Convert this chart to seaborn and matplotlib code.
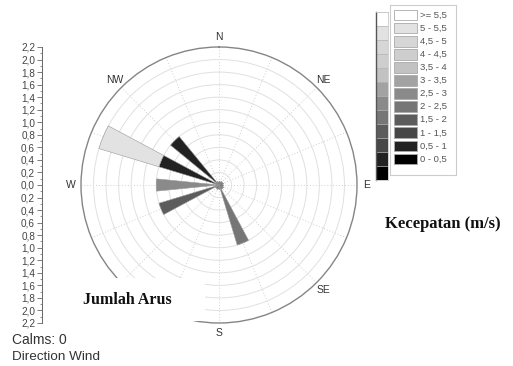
import numpy as np
import matplotlib
matplotlib.use('Agg')
import matplotlib.pyplot as plt
from matplotlib.patches import Rectangle
import seaborn as sns

# speed classes (top of legend first) and their grey shades
speed_labels = ['>= 5,5', '5 - 5,5', '4,5 - 5', '4 - 4,5', '3,5 - 4', '3 - 3,5',
                '2,5 - 3', '2 - 2,5', '1,5 - 2', '1 - 1,5', '0,5 - 1', '0 - 0,5']
speed_colors = ['#ffffff', '#e2e2e2', '#d6d6d6', '#cecece', '#c2c2c2', '#a2a2a2',
                '#8a8a8a', '#767676', '#5c5c5c', '#474747', '#222222', '#000000']

# 16 compass sectors (SW label sits under the title panel, so not shown)
directions = ['N', 'NNE', 'NE', 'ENE', 'E', 'ESE', 'SE', 'SSE',
              'S', 'SSW', 'SW', 'WSW', 'W', 'WNW', 'NW', 'NNW']
dir_labels = ['N', '', 'NE', '', 'E', '', 'SE', '',
              'S', '', '', '', 'W', '', 'NW', '']

# counts per (direction, speed class)
counts = {
    'WNW': {'0,5 - 1': 1, '5 - 5,5': 1},
    'NW': {'0,5 - 1': 1},
    'W': {'2,5 - 3': 1},
    'WSW': {'1,5 - 2': 1},
    'SSE': {'2 - 2,5': 1},
}

rmax = 2.2
radial_ticks = np.arange(-2.2, 2.21, 0.2)

sns.set_style('white')
plt.rcParams['font.family'] = ['Liberation Sans', 'DejaVu Sans']

fig = plt.figure(figsize=(5.13, 3.66), dpi=100)
W, H = 513, 366


def px_axes(x0, y0, x1, y1, **kw):
    return fig.add_axes([x0 / W, 1 - y1 / H, (x1 - x0) / W, (y1 - y0) / H], **kw)


# ---- wind rose ----
cx, cy, R = 219, 185, 138
ax = px_axes(cx - R, cy - R, cx + R, cy + R, projection='polar')
ax.set_theta_zero_location('N')
ax.set_theta_direction(-1)
ax.set_ylim(0, rmax)

step = 2 * np.pi / len(directions)
width = step / 2
order = speed_labels[::-1]  # stack from calm to strong
for i, d in enumerate(directions):
    bottom = 0
    for lab, col in zip(order, speed_colors[::-1]):
        v = counts.get(d, {}).get(lab, 0)
        if v:
            ax.bar(i * step, v, width=width, bottom=bottom, color=col,
                   edgecolor='#9a9a9a', linewidth=0.4, zorder=3)
            bottom += v

ax.set_rgrids(np.arange(0.2, rmax, 0.2), labels=[])
ax.yaxis.grid(True, color='#e0e0e0', linestyle='-', linewidth=0.7)
ax.set_xticks(np.arange(len(directions)) * step)
ax.set_xticklabels([])
ax.xaxis.grid(True, color='#d0d0d0', linestyle=(0, (1, 2)), linewidth=0.7)
ax.tick_params(axis='x', bottom=True, length=3, direction='inout',
               color='#808080', width=0.8)
ax.spines['polar'].set_color('#858585')
ax.spines['polar'].set_linewidth(1.0)

for i, lab in enumerate(dir_labels):
    if lab:
        ax.text(i * step, rmax * 148 / 138, lab, ha='center', va='center',
                fontsize=7.5, color='#333333', clip_on=False)

# ---- radial scale on the left ----
sax = px_axes(42, cy - R, 43, cy + R)
sax.set_ylim(-rmax, rmax)
sax.set_yticks(radial_ticks)
sax.set_yticklabels([f'{abs(v):.1f}'.replace('.', ',') for v in radial_ticks],
                    fontsize=7.2, color='#444444')
sax.set_yticks(np.arange(-2.1, 2.2, 0.2), minor=True)
sax.tick_params(axis='y', which='major', left=True, length=3.5, width=0.6,
                color='#666666', pad=1.5)
sax.tick_params(axis='y', which='minor', left=True, length=1.8, width=0.5,
                color='#666666')
sax.set_xticks([])
for s in ['top', 'right', 'bottom']:
    sax.spines[s].set_visible(False)
sax.spines['left'].set_color('#666666')
sax.spines['left'].set_linewidth(0.7)
sax.set_facecolor('none')

# ---- colour strip ----
cax = px_axes(376, 12, 388, 180)
sns.barplot(x=np.ones(len(speed_labels)), y=speed_labels, hue=speed_labels,
            palette=dict(zip(speed_labels, speed_colors)), legend=False,
            orient='h', width=1.0, edgecolor='#b0b0b0', linewidth=0.4, ax=cax)
cax.set_xlim(0, 1)
cax.set_ylim(len(speed_labels) - 0.5, -0.5)
cax.set_xticks([])
cax.set_yticks([])
cax.set_xlabel('')
cax.set_ylabel('')
for s in ['top', 'right', 'bottom']:
    cax.spines[s].set_color('#c8c8c8')
    cax.spines[s].set_linewidth(0.6)
cax.spines['left'].set_color('#555555')
cax.spines['left'].set_linewidth(1.0)

# ---- legend box ----
lax = px_axes(390, 5, 456, 175)
sns.barplot(x=np.ones(len(speed_labels)), y=speed_labels, hue=speed_labels,
            palette=dict(zip(speed_labels, speed_colors)), legend=False,
            orient='h', width=0.82, edgecolor='#aaaaaa', linewidth=0.6, ax=lax)
lax.set_xlim(-0.17, 2.7)
lax.set_ylim(len(speed_labels) + 0.22, -0.76)
for i, lab in enumerate(speed_labels):
    lax.text(1.12, i, lab, ha='left', va='center', fontsize=6.8, color='#555555')
lax.set_xticks([])
lax.set_yticks([])
lax.set_xlabel('')
lax.set_ylabel('')
for s in lax.spines.values():
    s.set_color('#cccccc')
    s.set_linewidth(0.8)

fig.text(443 / W, 1 - 224 / H, 'Kecepatan (m/s)', ha='center', va='center',
         fontsize=12, fontweight='bold', family='Liberation Serif', color='#111111')

# white panel carrying the axis title
fig.patches.append(Rectangle((45 / W, 1 - 321 / H), 160 / W, 43 / H,
                             transform=fig.transFigure, facecolor='white',
                             edgecolor='none', zorder=5))
fig.text(127 / W, 1 - 300 / H, 'Jumlah Arus', ha='center', va='center',
         fontsize=11.5, fontweight='bold', family='Liberation Serif',
         color='#111111', zorder=6)

fig.text(12 / W, 1 - 340 / H, 'Calms: 0', ha='left', va='center',
         fontsize=10, color='#333333')
fig.text(12 / W, 1 - 357 / H, 'Direction Wind', ha='left', va='center',
         fontsize=9.7, color='#333333')

fig.savefig('out.png', dpi=100)
